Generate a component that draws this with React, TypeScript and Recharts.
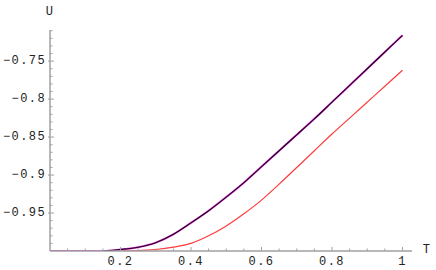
import { LineChart, Line, XAxis, YAxis } from 'recharts'

const T_VALUES = [0, 0.05, 0.1, 0.15, 0.2, 0.25, 0.3, 0.35, 0.4, 0.45, 0.5, 0.55, 0.6, 0.65, 0.7, 0.75, 0.8, 0.85, 0.9, 0.95, 1]
const MAGENTA_U = [-1, -1, -1, -1, -0.998, -0.995, -0.989, -0.978, -0.963, -0.947, -0.929, -0.91, -0.889, -0.868, -0.847, -0.826, -0.804, -0.782, -0.76, -0.738, -0.716]
const BLACK_U = [null, null, null, -1, -0.998, -0.995, -0.989, -0.978, -0.963, -0.947, -0.929, -0.91, -0.889, -0.868, -0.847, -0.826, -0.804, -0.782, -0.76, -0.738, -0.716]
const RED_U = [-1, -1, -1, -1, -1, -0.9995, -0.998, -0.995, -0.99, -0.98, -0.967, -0.951, -0.933, -0.912, -0.89, -0.868, -0.846, -0.825, -0.804, -0.783, -0.762]

const X_MAJOR = [0.2, 0.4, 0.6, 0.8, 1]
const X_LABELS = ['0.2', '0.4', '0.6', '0.8', '1']
const Y_MAJOR = [-0.95, -0.9, -0.85, -0.8, -0.75]
const Y_LABELS = ['−0.95', '−0.9', '−0.85', '−0.8', '−0.75']

// minor ticks: every 0.05 on T, every 0.01 on U
const X_TICKS = Array.from({ length: 21 }, (_, i) => +(i * 0.05).toFixed(2)).filter((v) => v > 0)
const Y_TICKS = Array.from({ length: 30 }, (_, i) => +(-1 + i * 0.01).toFixed(2)).filter((v) => v > -1 && v < -0.709)

const data = T_VALUES.map((t, i) => ({ T: t, m: MAGENTA_U[i], k: BLACK_U[i], r: RED_U[i] }))

const AXIS = '#a0a0a0'
const FONT = { fontFamily: '"Liberation Mono", "DejaVu Sans Mono", monospace', fontSize: 12, letterSpacing: 1.4, fill: '#222' }

const findIdx = (arr: number[], v: number) => arr.findIndex((m) => Math.abs(m - v) < 1e-6)

function XTick(props: any) {
  const { x, y, payload } = props
  const i = findIdx(X_MAJOR, payload.value)
  const ay = y - 4
  return (
    <g>
      <line x1={x} x2={x} y1={ay} y2={ay - (i >= 0 ? 4 : 2.5)} stroke={AXIS} strokeWidth={1} />
      {i >= 0 && (
        <text x={x} y={ay + 11} textAnchor="middle" dominantBaseline="central" style={FONT}>
          {X_LABELS[i]}
        </text>
      )}
    </g>
  )
}

function YTick(props: any) {
  const { x, y, payload } = props
  const i = findIdx(Y_MAJOR, payload.value)
  const ax = x + 4
  return (
    <g>
      <line x1={ax - (i >= 0 ? 2 : 0)} x2={ax + (i >= 0 ? 4 : 2.5)} y1={y} y2={y} stroke={AXIS} strokeWidth={1} />
      {i >= 0 && (
        <text x={x} y={y} textAnchor="end" dominantBaseline="central" style={FONT}>
          {Y_LABELS[i]}
        </text>
      )}
    </g>
  )
}

export default function App() {
  return (
    <div style={{ position: 'absolute', left: 0, top: 0, width: 436, height: 270, background: '#fff' }}>
      <LineChart width={436} height={270} data={data} margin={{ top: 30, right: 24, left: 4, bottom: 0 }}>
        <XAxis
          type="number"
          dataKey="T"
          domain={[0, 1.027]}
          ticks={X_TICKS}
          interval={0}
          tick={<XTick />}
          tickSize={0}
          tickMargin={4}
          height={19}
          axisLine={{ stroke: AXIS, strokeWidth: 1.5 }}
          tickLine={false}
          allowDataOverflow
        />
        <YAxis
          type="number"
          domain={[-1, -0.709]}
          ticks={Y_TICKS}
          interval={0}
          tick={<YTick />}
          tickSize={0}
          tickMargin={4}
          width={46}
          axisLine={{ stroke: AXIS, strokeWidth: 1.5 }}
          tickLine={false}
          allowDataOverflow
        />
        <Line type="monotone" dataKey="r" stroke="#ff3b3b" strokeWidth={1.2} dot={false} isAnimationActive={false} />
        <Line type="monotone" dataKey="m" stroke="#f03ce8" strokeWidth={2} dot={false} isAnimationActive={false} />
        <Line type="monotone" dataKey="k" stroke="#1a001a" strokeWidth={1.1} dot={false} isAnimationActive={false} />
        <text x={50} y={12} textAnchor="middle" dominantBaseline="central" style={FONT}>U</text>
        <text x={427} y={250} textAnchor="middle" dominantBaseline="central" style={FONT}>T</text>
      </LineChart>
    </div>
  )
}
